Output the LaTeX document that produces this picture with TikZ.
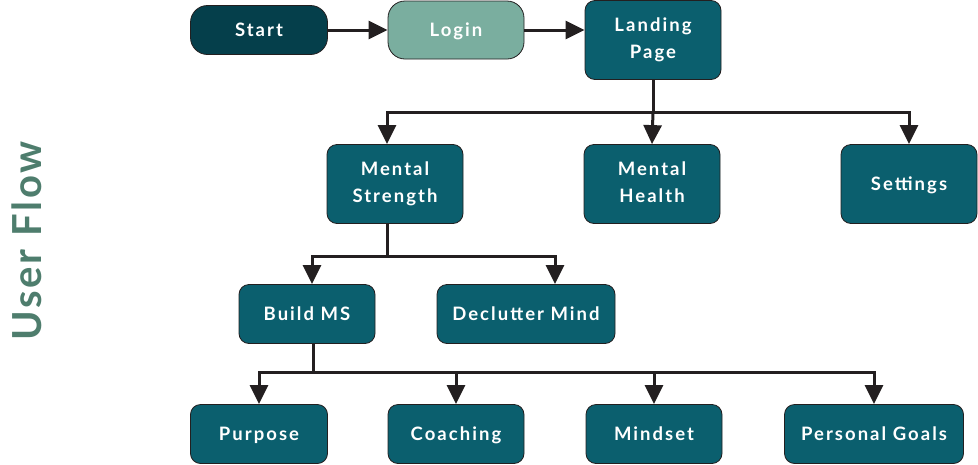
\documentclass[tikz,border=0pt]{standalone}
\usepackage{fontspec}
\setmainfont{Lato}
\newfontfamily\boxfont[LetterSpace=11]{Lato}
\newfontfamily\titlefont[LetterSpace=7]{Lato}
\usetikzlibrary{arrows.meta}
\definecolor{boxteal}{HTML}{0B5F6E}
\definecolor{startteal}{HTML}{053F4B}
\definecolor{loginteal}{HTML}{7AAE9F}
\definecolor{titleteal}{HTML}{4E7D6D}
\definecolor{lineblack}{HTML}{231F20}
\newcommand{\linestrut}{\rule[-4pt]{0pt}{21.4pt}}
\begin{document}
\begin{tikzpicture}[x=1pt,y=-1pt,
  box/.style={draw=lineblack,line width=0.8pt,fill=boxteal,rounded corners=10pt,
    text=white,font=\boxfont\bfseries\fontsize{18.5}{27}\selectfont,align=center,
    minimum width=136pt,minimum height=59pt,inner sep=0pt,
    execute at begin node=\linestrut,execute at end node=\linestrut},
  tallbox/.style={box,minimum height=79pt},
  pill/.style={box,rounded corners=17pt},
  link/.style={draw=lineblack,line width=3pt},
  arr/.style={link,-{Triangle[width=18pt,length=19pt]}}]
\useasboundingbox (0,0) rectangle (978,464);

\node[rotate=90,text=titleteal,font=\titlefont\bfseries\fontsize{40}{40}\selectfont] (title) at (27,241) {User Flow};

%top row
\node[pill,fill=startteal,minimum width=137pt,minimum height=49pt] (start) at (259,30) {Start};
\node[pill,fill=loginteal,minimum height=58pt] (login) at (456,30) {Login};
\node[tallbox] (landing) at (653,40) {Landing\\Page};

%second row
\node[tallbox] (strength) at (395,184) {Mental\\Strength};
\node[tallbox] (health) at (652,184) {Mental\\Health};
\node[tallbox] (settings) at (909,184) {Settings};

%third row
\node[box] (buildms) at (307,314) {Build MS};
\node[box,minimum width=178pt] (declutter) at (526,314) {Declutter Mind};

%bottom row
\node[box,minimum width=137pt] (purpose) at (259,434) {Purpose};
\node[box] (coaching) at (456,434) {Coaching};
\node[box] (mindset) at (654,434) {Mindset};
\node[box,minimum width=179pt] (goals) at (874,434) {Personal Goals};

\draw[arr] (start) -- (login);
\draw[arr] (login.east) -- (login.east -| landing.west);

\draw[link] (landing.south) -- (653,112);
\draw[arr] (653,112) -| ([xshift=-8pt]strength.north);
\draw[arr] (653,112) -- (health.north);
\draw[arr] (653,112) -| (settings.north);

\draw[link] ([xshift=-8pt]strength.south) -- (387,256);
\draw[arr] (387,256) -| ([xshift=5pt]buildms.north);
\draw[arr] (387,256) -| ([xshift=29pt]declutter.north);

\draw[link] ([xshift=6pt]buildms.south) -- (313,372);
\draw[arr] (313,372) -| (purpose.north);
\draw[arr] (313,372) -| (coaching.north);
\draw[arr] (313,372) -| (mindset.north);
\draw[arr] (313,372) -| (goals.north);
\end{tikzpicture}
\end{document}
